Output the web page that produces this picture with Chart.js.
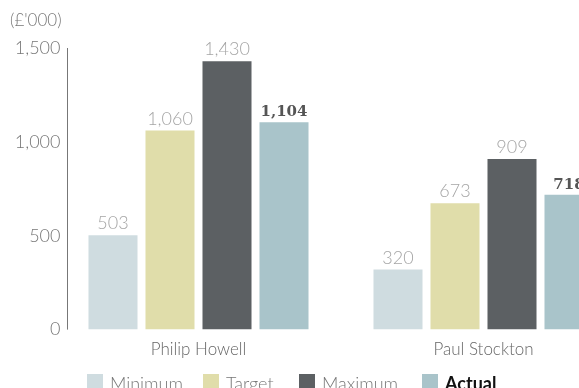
<!DOCTYPE html>
<html>
<head>
<meta charset="utf-8">
<script src="https://cdn.jsdelivr.net/npm/chart.js@4"></script>
<style>
    html, body { margin: 0; padding: 0; background: #fff; overflow: hidden; }
    #wrap { position: relative; width: 579px; height: 388px; overflow: hidden; }
    #chart { position: absolute; left: 0; top: 0; }
    #unit { position: absolute; left: 10px; top: 9px; font: 300 17px Lato, sans-serif; color: #777; }
    #legend { position: absolute; left: 87px; top: 372px; font: 300 18px Lato, sans-serif; color: #777; white-space: nowrap; }
    #legend span.item { display: inline-block; }
    #legend span.box { display: inline-block; width: 16px; height: 16px; vertical-align: top; margin-top: 2px; margin-right: 7px; }
</style>
</head>
<body>
<div id="wrap">
    <canvas id="chart" width="630" height="388" style="width:630px;height:388px"></canvas>
    <div id="unit">(£'000)</div>
    <div id="legend"></div>
</div>
<script>
// chart data
var categories = ['Philip Howell', 'Paul Stockton'];
var seriesNames = ['Minimum', 'Target', 'Maximum', 'Actual'];
var minimum = [503, 320];
var target = [1060, 673];
var maximum = [1430, 909];
var actual = [1104, 718];
var yTicks = [0, 500, 1000, 1500];

var colors = ['#cfdce0', '#e0ddaa', '#5c6063', '#a9c4ca'];
var legendWidths = [116, 96, 123, 100];

var datasets = [minimum, target, maximum, actual].map(function (values, i) {
    return {
        label: seriesNames[i],
        data: values,
        backgroundColor: colors[i],
        categoryPercentage: 0.8,
        barPercentage: 0.86
    };
});

function fmt(v) { return v.toLocaleString('en-GB'); }

// value labels above each bar
var valueLabels = {
    id: 'valueLabels',
    afterDatasetsDraw: function (chart) {
        var ctx = chart.ctx;
        ctx.save();
        ctx.textAlign = 'center';
        ctx.textBaseline = 'alphabetic';
        chart.data.datasets.forEach(function (ds, i) {
            var meta = chart.getDatasetMeta(i);
            var isActual = ds.label === 'Actual';
            ctx.font = isActual ? 'bold 15px "DejaVu Serif", serif' : '300 18px Lato, sans-serif';
            ctx.fillStyle = isActual ? '#555' : '#a5a5a5';
            meta.data.forEach(function (bar, j) {
                ctx.fillText(fmt(ds.data[j]), bar.x, bar.y - 6);
            });
        });
        ctx.restore();
    }
};

// y axis: line a little right of the tick labels
var yAxisDraw = {
    id: 'yAxisDraw',
    afterDraw: function (chart) {
        var y = chart.scales.y;
        var x = Math.round(chart.chartArea.left + 11) + 0.5;
        var ctx = chart.ctx;
        ctx.save();
        ctx.strokeStyle = '#777';
        ctx.lineWidth = 1;
        ctx.beginPath();
        ctx.moveTo(x, y.getPixelForValue(yTicks[yTicks.length - 1]));
        ctx.lineTo(x, y.getPixelForValue(0));
        ctx.stroke();
        ctx.font = '300 18px Lato, sans-serif';
        ctx.fillStyle = '#777';
        ctx.textAlign = 'right';
        ctx.textBaseline = 'middle';
        y.ticks.forEach(function (t) {
            ctx.fillText(fmt(t.value), x - 7, y.getPixelForValue(t.value));
        });
        ctx.restore();
    }
};

new Chart(document.getElementById('chart'), {
    type: 'bar',
    data: { labels: categories, datasets: datasets },
    plugins: [valueLabels, yAxisDraw],
    options: {
        responsive: false,
        animation: false,
        layout: { padding: { top: 48, bottom: 26, right: 4 } },
        plugins: {
            legend: { display: false },
            tooltip: { enabled: false }
        },
        scales: {
            x: {
                grid: { display: false },
                border: { display: false },
                ticks: {
                    color: '#666',
                    font: { family: 'Lato', size: 17, weight: 300 },
                    padding: 2
                }
            },
            y: {
                min: 0,
                max: 1500,
                afterFit: function (scale) { scale.width = 56; },
                afterBuildTicks: function (scale) {
                    scale.ticks = yTicks.map(function (v) { return { value: v }; });
                },
                grid: { display: false, drawTicks: false },
                border: { display: false },
                ticks: { display: false }
            }
        }
    }
});

// html legend
var legend = document.getElementById('legend');
seriesNames.forEach(function (name, i) {
    var item = document.createElement('span');
    item.className = 'item';
    item.style.width = legendWidths[i] + 'px';
    var box = document.createElement('span');
    box.className = 'box';
    box.style.background = colors[i];
    item.appendChild(box);
    var txt = document.createElement('span');
    txt.textContent = name;
    if (name === 'Actual') { txt.style.fontWeight = 'bold'; txt.style.color = '#111'; }
    item.appendChild(txt);
    legend.appendChild(item);
});
</script>
</body>
</html>
